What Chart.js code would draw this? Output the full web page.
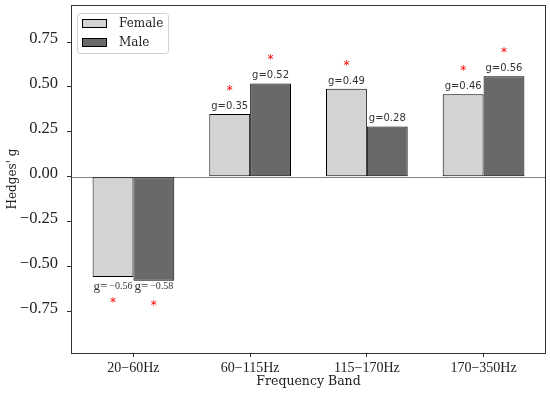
<!DOCTYPE html>
<html>
<head>
<meta charset="utf-8">
<script src="https://cdn.jsdelivr.net/npm/chart.js@4.4.0/dist/chart.umd.min.js"></script>
<style>
  html, body { margin: 0; padding: 0; background: #fff; }
  #wrap { width: 550px; height: 394px; }
</style>
</head>
<body>
<div id="wrap"><canvas id="wykres" width="550" height="394"></canvas></div>
<script>
// dane
const bands = ['20\u221260Hz', '60\u2212115Hz', '115\u2212170Hz', '170\u2212350Hz'];
const femaleG = [-0.56, 0.35, 0.49, 0.46];
const maleG = [-0.58, 0.52, 0.28, 0.56];
const femaleSig = [true, true, true, true];
const maleSig = [true, true, false, true];
const yTicks = [-0.75, -0.5, -0.25, 0, 0.25, 0.5, 0.75];

const FEMALE_COLOR = '#d3d3d3';
const MALE_COLOR = '#696969';

const fmt = v => (v < 0 ? '\u2212' : '') + Math.abs(v).toFixed(2);

// ramka, linia zera, etykiety g=, gwiazdki i legenda
const extras = {
  id: 'extras',
  beforeDatasetsDraw(chart) {
    const { ctx, chartArea, scales } = chart;
    const y0 = scales.y.getPixelForValue(0);
    ctx.save();
    ctx.strokeStyle = '#808080';
    ctx.lineWidth = 1;
    ctx.beginPath();
    ctx.moveTo(chartArea.left, Math.round(y0) + 0.5);
    ctx.lineTo(chartArea.right, Math.round(y0) + 0.5);
    ctx.stroke();
    ctx.restore();
  },
  afterDatasetsDraw(chart) {
    const { ctx, chartArea, scales } = chart;
    ctx.save();

    [[femaleG, femaleSig], [maleG, maleSig]].forEach(([vals, sig], di) => {
      const meta = chart.getDatasetMeta(di);
      vals.forEach((v, i) => {
        const bar = meta.data[i];
        const x = bar.x;
        const yEnd = scales.y.getPixelForValue(v);
        if (v >= 0) {
          ctx.font = '10px "DejaVu Sans"';
          ctx.fillStyle = '#333';
          ctx.textAlign = 'center';
          ctx.textBaseline = 'alphabetic';
          ctx.fillText('g=' + fmt(v), x, yEnd - 5);
          if (sig[i]) {
            const ys = scales.y.getPixelForValue(v + 0.15);
            ctx.font = '12px "DejaVu Sans"';
            ctx.fillStyle = '#ff0000';
            ctx.fillText('*', x, ys + 7);
          }
        } else {
          const yb = scales.y.getPixelForValue(-0.56) + 13;
          ctx.fillStyle = '#333';
          ctx.textBaseline = 'alphabetic';
          ctx.textAlign = 'left';
          ctx.font = '13px "Liberation Serif"';
          const w1 = ctx.measureText('g=').width;
          ctx.font = '10px "Liberation Serif"';
          const w2 = ctx.measureText(fmt(v)).width + 2;
          const sx = x - (w1 + w2) / 2;
          ctx.font = '13px "Liberation Serif"';
          ctx.fillText('g=', sx, yb);
          ctx.font = '10px "Liberation Serif"';
          ctx.fillText(fmt(v), sx + w1 + 2, yb - 1);
          if (sig[i]) {
            const ys = scales.y.getPixelForValue(v - 0.12);
            ctx.font = '12px "DejaVu Sans"';
            ctx.fillStyle = '#ff0000';
            ctx.textAlign = 'center';
            ctx.fillText('*', x, ys + 7);
          }
        }
      });
    });

    // ramka
    ctx.strokeStyle = '#333';
    ctx.lineWidth = 1;
    ctx.strokeRect(Math.round(chartArea.left) + 0.5, Math.round(chartArea.top) + 0.5,
      Math.round(chartArea.right - chartArea.left) - 1, Math.round(chartArea.bottom - chartArea.top));

    // legenda
    const lx = chartArea.left + 6, ly = chartArea.top + 8;
    ctx.fillStyle = 'rgba(255,255,255,0.8)';
    ctx.strokeStyle = '#d0d0d0';
    ctx.beginPath();
    ctx.roundRect(lx + 0.5, ly + 0.5, 91, 40, 3);
    ctx.fill();
    ctx.stroke();
    const items = [['Female', FEMALE_COLOR], ['Male', MALE_COLOR]];
    items.forEach(([name, col], k) => {
      const py = ly + 6 + k * 19;
      ctx.fillStyle = col;
      ctx.fillRect(lx + 5.5, py + 0.5, 24, 8);
      ctx.strokeStyle = '#000';
      ctx.strokeRect(lx + 5.5, py + 0.5, 24, 8);
      ctx.fillStyle = '#222';
      ctx.font = '12px "DejaVu Serif"';
      ctx.textAlign = 'left';
      ctx.textBaseline = 'middle';
      ctx.fillText(name, lx + 42, py + 4.5);
    });
    ctx.restore();
  }
};

const ctx = document.getElementById('wykres').getContext('2d');
new Chart(ctx, {
  type: 'bar',
  data: {
    datasets: [
      {
        label: 'Female',
        data: femaleG.map((v, i) => ({ x: i, y: v })),
        backgroundColor: FEMALE_COLOR,
        borderColor: '#000',
        borderWidth: 1,
        borderSkipped: false,
      },
      {
        label: 'Male',
        data: maleG.map((v, i) => ({ x: i, y: v })),
        backgroundColor: MALE_COLOR,
        borderColor: '#000',
        borderWidth: 1,
        borderSkipped: false,
      },
    ],
  },
  options: {
    responsive: false,
    animation: false,
    events: [],
    categoryPercentage: 0.7,
    barPercentage: 1,
    layout: { padding: { top: 5, right: 4, left: 0, bottom: 0 } },
    plugins: { legend: { display: false }, tooltip: { enabled: false } },
    scales: {
      x: {
        type: 'linear',
        offset: false,
        min: -0.535,
        max: 3.535,
        afterBuildTicks: s => { s.ticks = bands.map((b, i) => ({ value: i })); },
        afterFit: s => { s.height = 41; s.paddingLeft = 0; s.paddingRight = 0; },
        ticks: {
          includeBounds: false,
          autoSkip: false,
          maxRotation: 0,
          padding: 3,
          color: '#222',
          font: { family: 'Liberation Serif', size: 14 },
          callback: v => bands[v],
        },
        grid: { drawOnChartArea: false, offset: false, tickLength: 4, color: '#333' },
        border: { display: false },
        title: {
          display: true,
          text: 'Frequency Band',
          color: '#222',
          font: { family: 'DejaVu Serif', size: 12.5 },
          padding: { top: 0, bottom: 5 },
        },
      },
      y: {
        min: -0.983,
        max: 0.957,
        afterBuildTicks: s => { s.ticks = yTicks.map(v => ({ value: v })); },
        afterFit: s => { s.width = 71; s.paddingTop = 0; s.paddingBottom = 0; },
        ticks: {
          includeBounds: false,
          padding: 9,
          labelOffset: -3,
          color: '#222',
          font: { family: 'Liberation Serif', size: 16.5 },
          callback: v => fmt(v),
        },
        grid: { drawOnChartArea: false, tickLength: 4, color: '#333' },
        border: { display: false },
        title: {
          display: true,
          text: "Hedges' g",
          color: '#222',
          font: { family: 'DejaVu Serif', size: 12 },
          padding: { top: 6, bottom: 0 },
        },
      },
    },
  },
  plugins: [extras],
});
</script>
</body>
</html>
